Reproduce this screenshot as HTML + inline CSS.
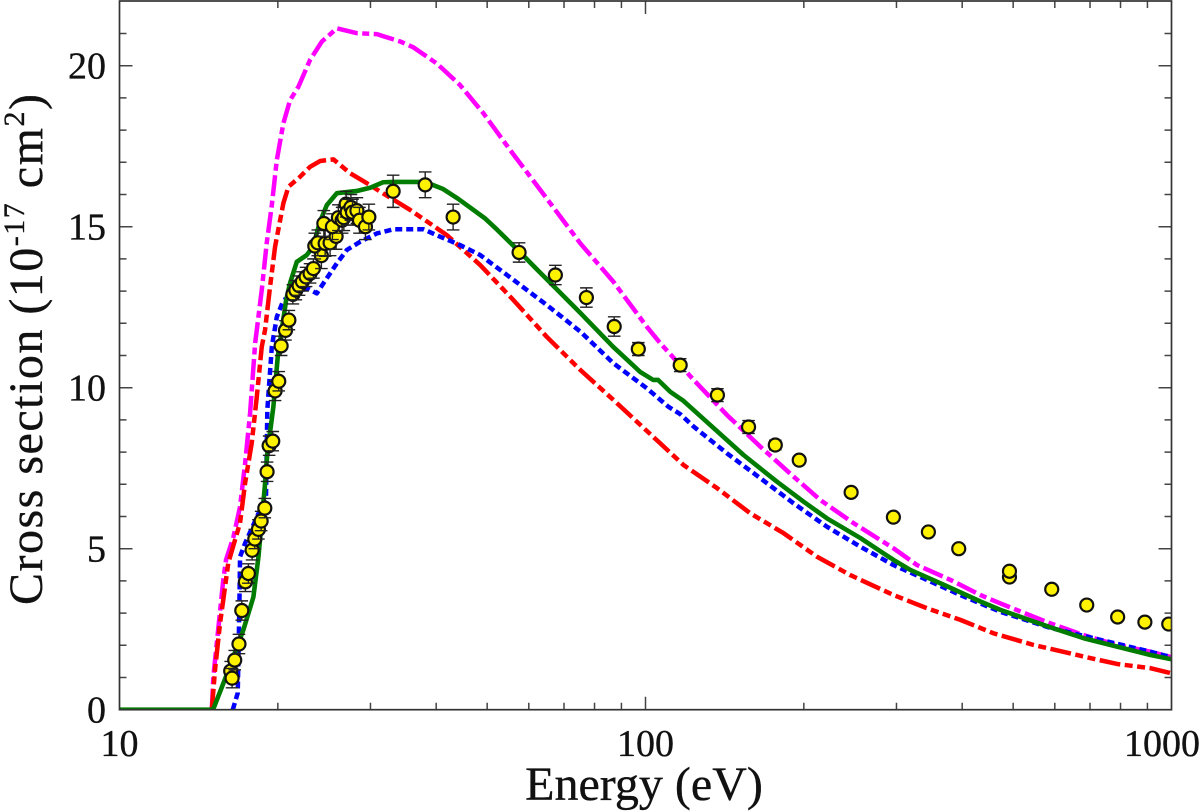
<!DOCTYPE html>
<html lang="en">
<head>
<meta charset="utf-8">
<title>Cross section vs Energy</title>
<style>
html,body{margin:0;padding:0;background:#fff;}
svg{display:block;}
text{font-family:"Liberation Serif","DejaVu Serif",serif;fill:#111;stroke:#111;stroke-width:0.35px;}
</style>
</head>
<body>
<svg id="chart" width="1200" height="812" viewBox="0 0 1200 812" xmlns="http://www.w3.org/2000/svg">
  <defs></defs>
  <g id="curves" clip-path="url(#plot-clip-full)"></g>
  <g id="points"></g>
  <g id="axes"></g>
  <g id="labels"></g>
  <text x="644" y="800" font-size="48" text-anchor="middle">Energy (eV)</text>
  <text transform="translate(42,605) rotate(-90)" font-size="48" letter-spacing="1.5">Cross section (10<tspan dy="-18" font-size="30">-17</tspan><tspan dy="18"> cm</tspan><tspan dy="-18" font-size="30">2</tspan><tspan dy="18">)</tspan></text>
</svg>
<script>
const greenEnergy = [10,15.06,15.87,17.2,17.97,18.37,18.89,19.1,19.61,19.99,20.74,21.1,21.73,22.7,23.33,24.06,24.78,25.89,28.27,29.96,31.71,33.13,38.12,41.23,44,47,49.6,52.2,57.8,62.3,67.4,75.2,86.8,97.7,103.4,105.7,111.5,118.1,132.8,153.6,177.8,199.8,221.4,256.2,296.3,318.8,368.9,433.4,472.9,588.7,681,788,912,1000];
const greenSigma = [0,0,0.95,2.48,3.5,4.74,6.92,7.97,9.4,10.95,12.72,13.25,13.91,14.12,14.38,15.16,15.67,16.04,16.11,16.21,16.38,16.39,16.39,16.17,15.87,15.53,15.25,14.91,14.2,13.66,13.1,12.32,11.27,10.49,10.24,10.24,9.87,9.59,8.84,7.91,7.08,6.46,5.94,5.33,4.65,4.34,3.88,3.36,3.1,2.56,2.22,1.96,1.7,1.565];

const blueEnergy = [16.42,16.78,16.9,16.95,17.33,18.99,19.1,19.48,19.91,20.5,22.7,23.72,24.41,25.89,27.06,28.67,30.84,33.18,37.84,40.7,44.4,48.5,56.1,64.9,75.2,86.9,100.6,110.5,116.4,123.5,142.9,165.3,191.2,221.4,256.2,296.3,343,396.9,472.9,588.7,912,1000];
const blueSigma = [0,0.52,3.2,4.75,5.17,6.61,9.31,11.27,12.2,12.72,13.09,12.93,13.24,13.86,14.28,14.53,14.79,14.92,14.92,14.69,14.43,14.12,13.35,12.57,11.74,10.76,9.98,9.41,9.18,8.79,7.96,7.19,6.41,5.68,5.06,4.49,4.03,3.56,3.04,2.54,1.8,1.63];

const redEnergy = [14.98,15.19,15.53,15.75,16.1,16.95,17.33,17.84,18.24,18.64,18.91,19.33,19.76,20.49,20.95,22.04,23.03,24.06,25.51,27.44,29.53,31.31,35.7,41.9,48.5,56.1,64.9,75.2,86.9,106.7,118.1,136.8,158.2,183.1,211.9,245.1,296.3,343,396.9,459.2,547,681,788,912,1000];
const redSigma = [0,1.23,2.69,3.41,4.56,5.8,7.04,8.28,9.72,11.27,11.79,13.14,14.38,15.73,16.24,16.55,16.86,17.04,17.09,16.66,16.35,16.09,15.52,14.74,13.81,12.72,11.58,10.55,9.62,8.27,7.6,6.88,6.1,5.48,4.75,4.18,3.56,3.15,2.79,2.37,2.01,1.65,1.42,1.29,1.13];

const magentaEnergy = [14.98,15.08,15.75,15.94,16.47,16.95,17.33,17.71,18.11,18.64,19.05,19.48,19.91,20.49,21.1,21.89,23.03,24.25,25.89,28.27,30.84,34.2,36.2,40.1,44.4,49.2,55.3,63.1,75.2,86.9,100.6,106.7,123.5,142.9,165.3,191.2,215,248.8,296.3,328.4,380,433.4,472.9,588.7,680,788,912,1000];
const magentaSigma = [0,1.02,4.03,4.65,5.37,6.3,7.65,9.2,11.39,13.03,14.49,15.67,17.07,18.21,18.93,19.35,20.18,20.75,21.16,21.01,20.98,20.75,20.57,20.07,19.4,18.52,17.38,16.14,14.48,13.29,11.89,11.38,10.24,9.15,8.17,7.24,6.51,5.79,5.01,4.49,4.03,3.56,3.3,2.68,2.32,2.01,1.8,1.63];

const pointEnergy = [16.27,16.37,16.56,16.87,17.08,17.35,17.58,17.87,18.08,18.37,18.59,18.89,19.08,19.25,19.56,19.76,20.08,20.29,20.68,20.99,21.36,21.64,21.95,22.27,22.63,23.03,23.37,24.2,23.51,23.82,24.6,25.14,25.81,24.46,25.4,26.07,26.5,26.7,26.97,27.09,27.54,27.73,28.27,28.59,29.35,29.79,33.13,38.12,43.08,57.5,67.4,77.2,87.2,96.9,116.4,137,157,176.5,196,246,296,345,394,492,492,592,690,790,890,988];
const pointSigma = [1.2,0.98,1.54,2.04,3.08,3.97,4.23,4.95,5.3,5.6,5.86,6.26,7.39,8.2,8.34,9.9,10.2,11.3,11.78,12.1,12.9,13.03,13.17,13.3,13.44,13.55,13.7,14.1,14.4,14.5,14.48,14.5,14.7,15.1,15,15.28,15.2,15.28,15.7,15.45,15.6,15.45,15.5,15.2,15,15.3,16.1,16.3,15.3,14.2,13.5,12.8,11.9,11.2,10.7,9.77,8.78,8.22,7.75,6.75,5.98,5.52,5,4.12,4.3,3.74,3.25,2.88,2.72,2.66];
const pointError = [0.3,0.3,0.3,0.3,0.3,0.3,0.3,0.3,0.3,0.3,0.3,0.3,0.3,0.3,0.3,0.3,0.3,0.3,0.3,0.3,0.3,0.3,0.3,0.3,0.3,0.3,0.3,0.4,0.4,0.4,0.4,0.4,0.4,0.4,0.4,0.4,0.4,0.4,0.4,0.4,0.4,0.4,0.4,0.4,0.4,0.4,0.5,0.4,0.4,0.3,0.3,0.3,0.3,0.2,0.2,0.2,0.2,0.15,0.1,0.1,0.1,0.1,0.1,0.1,0.1,0.1,0.1,0.1,0.1,0.1];

const yTickLabels = [0,5,10,15,20];
const xTickLabels = [10,100,1000];

const NS = 'http://www.w3.org/2000/svg';
const LEFT = 119.5, RIGHT = 1171.5, TOP = 1, BOTTOM = 709.7;
function xScale(e){ return LEFT + (RIGHT - LEFT) / 2 * (Math.log10(e) - 1); }
function yScale(s){ return BOTTOM - 32.2 * s; }

function make(tag, attrs, parent){
  const el = document.createElementNS(NS, tag);
  for (const k in attrs) el.setAttribute(k, attrs[k]);
  parent.appendChild(el);
  return el;
}

const svg = document.getElementById('chart');
const defs = svg.querySelector('defs');
const clip = make('clipPath', {id:'plot-clip-full'}, defs);
make('rect', {x:LEFT, y:TOP, width:RIGHT-LEFT, height:BOTTOM-TOP}, clip);

const curves = document.getElementById('curves');
function curve(energy, sigma, color, width, dash, name){
  let d = '';
  for (let i = 0; i < energy.length; i++){
    d += (i ? 'L' : 'M') + xScale(energy[i]).toFixed(2) + ' ' + yScale(sigma[i]).toFixed(2);
  }
  const p = make('path', {d:d, fill:'none', stroke:color, 'stroke-width':width, 'stroke-linejoin':'round'}, curves);
  if (dash) p.setAttribute('stroke-dasharray', dash);
  
  
}
curve(magentaEnergy, magentaSigma, '#ff00ff', 4.5, '21 4.5 7 4.5', 'magenta-dash-dot-curve');
curve(redEnergy, redSigma, '#ff0000', 4.5, '21 4.5 8 4.5 8 4.5', 'red-dash-dot-dot-curve');
curve(blueEnergy, blueSigma, '#0000ff', 4.5, '7 4', 'blue-dashed-curve');
curve(greenEnergy, greenSigma, '#007d00', 4.6, '', 'green-solid-curve');

const points = document.getElementById('points');
points.setAttribute('clip-path', 'url(#plot-clip-full)');
for (let i = 0; i < pointEnergy.length; i++){
  const g = make('g', {}, points);
  
  
  const x = xScale(pointEnergy[i]);
  const y0 = yScale(pointSigma[i] - pointError[i]);
  const y1 = yScale(pointSigma[i] + pointError[i]);
  const ebar = 'M' + x + ' ' + y0 + 'V' + y1 + 'M' + (x-6.3) + ' ' + y0 + 'H' + (x+6.3) + 'M' + (x-6.3) + ' ' + y1 + 'H' + (x+6.3);
  make('path', {d:ebar, fill:'none', stroke:'#222', 'stroke-width':1.4}, g);
  make('circle', {cx:x, cy:yScale(pointSigma[i]), r:6.5, fill:'#fff200', stroke:'#111', 'stroke-width':2.2}, g);
}

const axes = document.getElementById('axes');
let tickPath = '';
for (let s = 1; s <= 21; s++){
  const len = s % 5 === 0 ? 13 : 7;
  const y = yScale(s);
  tickPath += 'M' + LEFT + ' ' + y + 'h' + len + 'M' + RIGHT + ' ' + y + 'h' + (-len);
}
for (let dec = 1; dec < 3; dec++){
  for (let m = 2; m <= 10; m++){
    const len = m === 10 && dec < 2 ? 13 : 7;
    if (m === 10 && dec === 2) continue;
    const x = xScale(m * Math.pow(10, dec));
    tickPath += 'M' + x + ' ' + BOTTOM + 'v' + (-len) + 'M' + x + ' ' + TOP + 'v' + len;
  }
}
const ticks = make('path', {d:tickPath, fill:'none', stroke:'#444', 'stroke-width':1.5}, axes);


const frame = make('rect', {x:LEFT, y:TOP, width:RIGHT-LEFT, height:BOTTOM-TOP, fill:'none', stroke:'#333', 'stroke-width':1.7}, axes);



const labels = document.getElementById('labels');
yTickLabels.forEach(function(v){
  const t = make('text', {x:106, y:yScale(v)+13, 'font-size':38, 'text-anchor':'end'}, labels);
  
  
  t.textContent = v;
});
xTickLabels.forEach(function(v){
  const x = Math.min(xScale(v), 1162);
  const t = make('text', {x:x, y:756, 'font-size':38, 'text-anchor':'middle'}, labels);
  
  
  t.textContent = v;
});
</script>
</body>
</html>
